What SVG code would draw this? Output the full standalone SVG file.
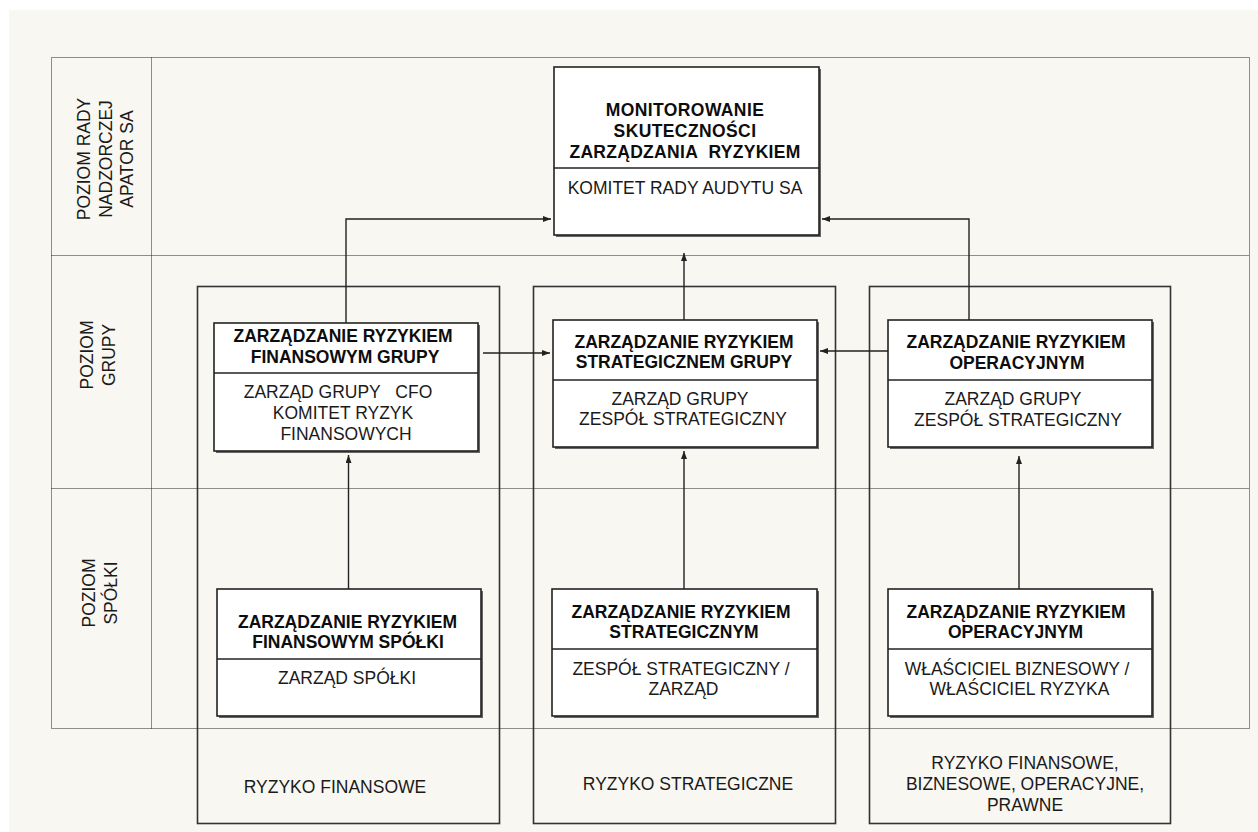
<svg xmlns="http://www.w3.org/2000/svg" width="1258" height="832" viewBox="0 0 1258 832">
<style>
text{font-family:"Liberation Sans",Arial,sans-serif;font-size:17.5px;fill:#1a1a1a;text-anchor:middle}
.b{font-weight:bold;fill:#0d0d0d}
.dot{fill:none;stroke:#222;stroke-width:1;stroke-dasharray:1 1}
.col{fill:none;stroke:#333;stroke-width:1.6}
.box{fill:#fff;stroke:#222;stroke-width:1.6}
.sh{fill:#666}
.div{stroke:#222;stroke-width:1.4}
.con{fill:none;stroke:#222;stroke-width:1.4;marker-end:url(#ah)}
</style>
<defs>
<marker id="ah" viewBox="0 0 8 6" refX="8" refY="3" markerWidth="8" markerHeight="6" orient="auto" markerUnits="userSpaceOnUse"><path d="M0,0 L8,3 L0,6 z" fill="#222"/></marker>
</defs>
<rect x="0" y="0" width="1258" height="832" fill="#ffffff"/>
<rect x="9" y="10" width="1249" height="822" fill="#f9f7f1"/>

<g id="lanes">
<rect class="dot" x="51.5" y="57.5" width="1198" height="671"/>
<line class="dot" x1="151.5" y1="57.5" x2="151.5" y2="728.5"/>
<line class="dot" x1="51.5" y1="255.5" x2="1249.5" y2="255.5"/>
<line class="dot" x1="51.5" y1="488.5" x2="1249.5" y2="488.5"/>
<text transform="translate(90,159) rotate(-90)">POZIOM RADY</text>
<text transform="translate(112,159) rotate(-90)">NADZORCZEJ</text>
<text transform="translate(133,159) rotate(-90)">APATOR SA</text>
<text transform="translate(93,355) rotate(-90)">POZIOM</text>
<text transform="translate(115,355) rotate(-90)">GRUPY</text>
<text transform="translate(95,593) rotate(-90)">POZIOM</text>
<text transform="translate(117,593) rotate(-90)">SPÓŁKI</text>
</g>

<g id="col-finansowe">
<rect class="col" x="197.5" y="286.5" width="302" height="537"/>
<text x="335" y="793">RYZYKO FINANSOWE</text>
</g>
<g id="col-strategiczne">
<rect class="col" x="533.5" y="286.5" width="302" height="537"/>
<text x="688" y="790">RYZYKO STRATEGICZNE</text>
</g>
<g id="col-operacyjne">
<rect class="col" x="869.5" y="286.5" width="301" height="537"/>
<text x="1025" y="769">RYZYKO FINANSOWE,</text>
<text x="1025" y="790">BIZNESOWE, OPERACYJNE,</text>
<text x="1025" y="811">PRAWNE</text>
</g>

<g id="connectors">
<path class="con" d="M346,323 V219 H551"/>
<path class="con" d="M684,320 V253"/>
<path class="con" d="M969,320 V219 H822"/>
<path class="con" d="M483,353 H550"/>
<path class="con" d="M888,351 H820"/>
<path class="con" d="M348.5,589 V455"/>
<path class="con" d="M684,589 V451"/>
<path class="con" d="M1019,589 V456"/>
</g>

<g id="monitorowanie">
<rect class="sh" x="556" y="69" width="265" height="168"/>
<rect class="box" x="554" y="67" width="265" height="168"/>
<line class="div" x1="554" y1="168" x2="819" y2="168"/>
<text class="b" x="685" y="116" letter-spacing="0.4">MONITOROWANIE</text>
<text class="b" x="685" y="137" letter-spacing="0.4">SKUTECZNOŚCI</text>
<text class="b" x="685" y="158" letter-spacing="0.3">ZARZĄDZANIA&#160; RYZYKIEM</text>
<text x="685" y="194">KOMITET RADY AUDYTU SA</text>
</g>

<g id="finansowe-grupy">
<rect class="sh" x="216" y="325" width="264" height="128"/>
<rect class="box" x="214" y="323" width="264" height="128"/>
<line class="div" x1="214" y1="373" x2="478" y2="373"/>
<text class="b" x="343" y="342">ZARZĄDZANIE RYZYKIEM</text>
<text class="b" x="345" y="363">FINANSOWYM GRUPY</text>
<text x="338" y="398">ZARZĄD GRUPY&#160;&#160;&#160;CFO</text>
<text x="343" y="419">KOMITET RYZYK</text>
<text x="346" y="440">FINANSOWYCH</text>
</g>

<g id="strategiczne-grupy">
<rect class="sh" x="555" y="322" width="264" height="127"/>
<rect class="box" x="553" y="320" width="264" height="127"/>
<line class="div" x1="553" y1="380" x2="817" y2="380"/>
<text class="b" x="684" y="348">ZARZĄDZANIE RYZYKIEM</text>
<text class="b" x="684" y="368">STRATEGICZNEM GRUPY</text>
<text x="680" y="405">ZARZĄD GRUPY</text>
<text x="683" y="425">ZESPÓŁ STRATEGICZNY</text>
</g>

<g id="operacyjne-grupy">
<rect class="sh" x="890" y="322" width="264" height="127"/>
<rect class="box" x="888" y="320" width="264" height="127"/>
<line class="div" x1="888" y1="380" x2="1152" y2="380"/>
<text class="b" x="1016" y="348">ZARZĄDZANIE RYZYKIEM</text>
<text class="b" x="1017" y="369">OPERACYJNYM</text>
<text x="1013" y="405">ZARZĄD GRUPY</text>
<text x="1018" y="426">ZESPÓŁ STRATEGICZNY</text>
</g>

<g id="finansowe-spolki">
<rect class="sh" x="219" y="591" width="264" height="127"/>
<rect class="box" x="217" y="589" width="264" height="127"/>
<line class="div" x1="217" y1="659" x2="481" y2="659"/>
<text class="b" x="347.5" y="628">ZARZĄDZANIE RYZYKIEM</text>
<text class="b" x="348" y="648">FINANSOWYM SPÓŁKI</text>
<text x="347" y="684">ZARZĄD SPÓŁKI</text>
</g>

<g id="strategiczne-spolki">
<rect class="sh" x="554" y="591" width="265" height="127"/>
<rect class="box" x="552" y="589" width="265" height="127"/>
<line class="div" x1="552" y1="649" x2="817" y2="649"/>
<text class="b" x="681" y="618">ZARZĄDZANIE RYZYKIEM</text>
<text class="b" x="684" y="638">STRATEGICZNYM</text>
<text x="681" y="675">ZESPÓŁ STRATEGICZNY /</text>
<text x="683.5" y="695">ZARZĄD</text>
</g>

<g id="operacyjne-spolki">
<rect class="sh" x="890" y="591" width="264" height="127"/>
<rect class="box" x="888" y="589" width="264" height="127"/>
<line class="div" x1="888" y1="649" x2="1152" y2="649"/>
<text class="b" x="1016" y="618">ZARZĄDZANIE RYZYKIEM</text>
<text class="b" x="1015.5" y="638">OPERACYJNYM</text>
<text x="1017" y="675">WŁAŚCICIEL BIZNESOWY /</text>
<text x="1019.5" y="695">WŁAŚCICIEL RYZYKA</text>
</g>
</svg>
